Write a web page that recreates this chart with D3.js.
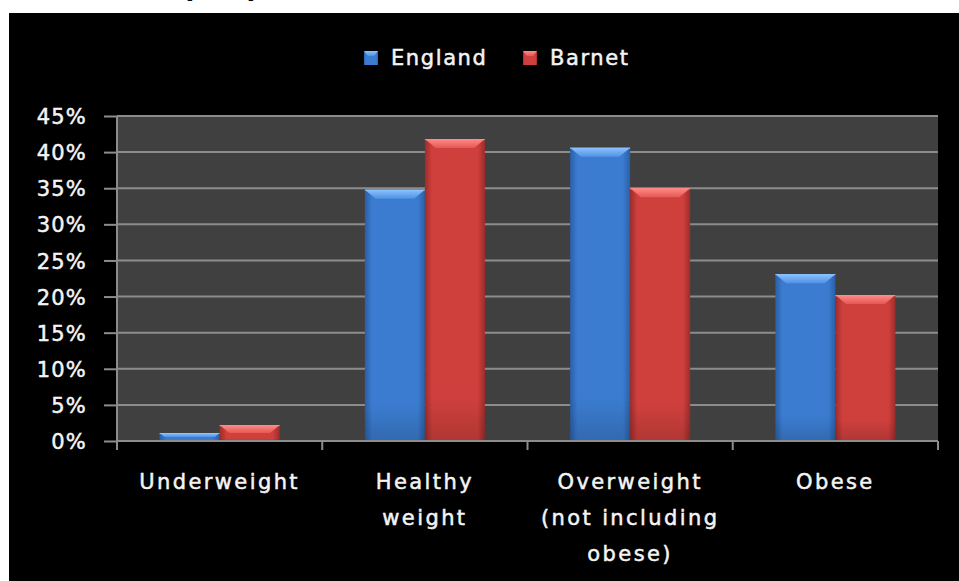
<!DOCTYPE html>
<html>
<head>
<meta charset="utf-8">
<script src="https://cdn.jsdelivr.net/npm/d3@7"></script>
<style>
  html, body { margin: 0; padding: 0; background: #ffffff; }
  svg { display: block; }
  text { font-family: "DejaVu Sans", Verdana, sans-serif; }
</style>
</head>
<body>
<svg id="chart" width="959" height="581"></svg>
<script>
// ---- data ----
const categories = [["Underweight"], ["Healthy", "weight"], ["Overweight", "(not including", "obese)"], ["Obese"]];
const seriesNames = ["England", "Barnet"];
const englandValues = [0.011, 0.348, 0.406, 0.231];
const barnetValues  = [0.022, 0.418, 0.350, 0.202];
const yTicks = [0, 0.05, 0.10, 0.15, 0.20, 0.25, 0.30, 0.35, 0.40, 0.45];

const seriesValues = [englandValues, barnetValues];
const catKeys = categories.map(c => c.join(" "));

const svg = d3.select("#chart");
const W = 959, H = 581;
const plot = { left: 117, right: 938, top: 116, bottom: 441 };
const textColor = "#f4f4f4";

// background
svg.append("rect").attr("x", 0).attr("y", 0).attr("width", W).attr("height", H).attr("fill", "#ffffff");
// partially visible title (cut off above)
svg.append("text").attr("x", 181).attr("y", -3).attr("font-size", 30).attr("font-weight", "bold").attr("fill", "#000").text("(");
svg.append("text").attr("x", 246).attr("y", -3).attr("font-size", 30).attr("font-weight", "bold").attr("fill", "#000").text(")");

svg.append("rect").attr("x", 9).attr("y", 13).attr("width", W - 9).attr("height", H - 13).attr("fill", "#000000");

// plot area
svg.append("rect").attr("x", plot.left).attr("y", plot.top)
  .attr("width", plot.right - plot.left).attr("height", plot.bottom - plot.top)
  .attr("fill", "#404040");

const x = d3.scaleBand().domain(catKeys).range([plot.left, plot.right]).paddingInner(0).paddingOuter(0);
const xs = d3.scaleBand().domain(seriesNames).range([0, x.bandwidth()]).paddingInner(0).paddingOuter(0.71);
const y = d3.scaleLinear().domain([0, 0.45]).range([plot.bottom, plot.top]);

// gridlines
svg.append("g").selectAll("line").data(yTicks.filter(t => t > 0)).join("line")
  .attr("x1", plot.left).attr("x2", plot.right)
  .attr("y1", d => y(d)).attr("y2", d => y(d))
  .attr("stroke", "#8c8c8c").attr("stroke-width", 2);

// gradients
const defs = svg.append("defs");
const palette = {
  England: { edge: "#2a5fa6", body: "#3b7cd0", top1: "#8cc2ff", top2: "#4f92e4", bottom: "#2f69b6" },
  Barnet:  { edge: "#9e2c2a", body: "#cf403d", top1: "#ff8a86", top2: "#e45854", bottom: "#b23532" }
};
seriesNames.forEach(s => {
  const p = palette[s];
  const g = defs.append("linearGradient").attr("id", "h-" + s).attr("x1", 0).attr("x2", 1).attr("y1", 0).attr("y2", 0);
  g.append("stop").attr("offset", 0).attr("stop-color", p.edge);
  g.append("stop").attr("offset", 0.12).attr("stop-color", p.body);
  g.append("stop").attr("offset", 0.88).attr("stop-color", p.body);
  g.append("stop").attr("offset", 1).attr("stop-color", p.edge);
  const v = defs.append("linearGradient").attr("id", "v-" + s).attr("x1", 0).attr("x2", 0).attr("y1", 0).attr("y2", 1);
  v.append("stop").attr("offset", 0).attr("stop-color", "#000").attr("stop-opacity", 0);
  v.append("stop").attr("offset", 0.85).attr("stop-color", "#000").attr("stop-opacity", 0);
  v.append("stop").attr("offset", 1).attr("stop-color", "#000").attr("stop-opacity", 0.15);
  const t = defs.append("linearGradient").attr("id", "t-" + s).attr("x1", 0).attr("x2", 0).attr("y1", 0).attr("y2", 1);
  t.append("stop").attr("offset", 0).attr("stop-color", p.top1);
  t.append("stop").attr("offset", 1).attr("stop-color", p.top2);
});

// bars
const barData = [];
catKeys.forEach((c, i) => seriesNames.forEach((s, j) => barData.push({ c, s, v: seriesValues[j][i] })));
const bars = svg.append("g").selectAll("g").data(barData).join("g");
bars.each(function(d) {
  const g = d3.select(this);
  const x0 = x(d.c) + xs(d.s), w = xs.bandwidth();
  const y0 = y(d.v), h = plot.bottom - y0;
  g.append("rect").attr("x", x0).attr("y", y0).attr("width", w).attr("height", h).attr("fill", `url(#h-${d.s})`);
  g.append("rect").attr("x", x0).attr("y", y0).attr("width", w).attr("height", h).attr("fill", `url(#v-${d.s})`);
  const bh = Math.min(9, h * 0.5), bi = Math.min(11, bh * 1.2);
  g.append("path")
    .attr("d", `M${x0},${y0} L${x0 + w},${y0} L${x0 + w - bi},${y0 + bh} L${x0 + bi},${y0 + bh} Z`)
    .attr("fill", `url(#t-${d.s})`);
  g.append("line").attr("x1", x0).attr("x2", x0 + w).attr("y1", y0 + 0.5).attr("y2", y0 + 0.5)
    .attr("stroke", palette[d.s].top1).attr("stroke-width", 1);
});

// y axis
const yAxis = d3.axisLeft(y).tickValues(yTicks).tickFormat(d3.format(".0%")).tickSize(13).tickPadding(17);
const ya = svg.append("g").attr("transform", `translate(${plot.left},0)`).call(yAxis);
ya.select(".domain").attr("stroke", "#8c8c8c").attr("stroke-width", 2).attr("d", `M0,${plot.top}V${plot.bottom + 8}`);
ya.selectAll(".tick line").attr("stroke", "#8c8c8c").attr("stroke-width", 2);
ya.selectAll(".tick text").attr("fill", textColor).attr("font-size", 21)
  .attr("stroke", textColor).attr("stroke-width", 0.5)
  .attr("font-family", "DejaVu Sans, sans-serif").attr("letter-spacing", "1.2px").attr("dy", "0.36em");

// x axis
const xAxis = d3.axisBottom(x).tickSize(0).tickFormat("");
const xa = svg.append("g").attr("transform", `translate(0,${plot.bottom})`).call(xAxis);
xa.select(".domain").attr("stroke", "#8c8c8c").attr("stroke-width", 2).attr("d", `M${plot.left},0H${plot.right}`);
const boundaries = catKeys.map(c => x(c)).concat([plot.right]);
xa.selectAll(".bound").data(boundaries).join("line").attr("class", "bound")
  .attr("x1", d => d).attr("x2", d => d).attr("y1", 0).attr("y2", 9)
  .attr("stroke", "#8c8c8c").attr("stroke-width", 2);

// category labels
const lab = svg.append("g").selectAll("text").data(categories).join("text")
  .attr("x", (d, i) => x(catKeys[i]) + x.bandwidth() / 2)
  .attr("y", 489)
  .attr("text-anchor", "middle").attr("fill", textColor)
  .attr("stroke", textColor).attr("stroke-width", 0.5)
  .attr("font-size", 21).attr("letter-spacing", "2.4px");
lab.each(function(d) {
  const t = d3.select(this);
  d.forEach((line, k) => t.append("tspan").attr("x", t.attr("x")).attr("dy", k === 0 ? 0 : 36).text(line));
});

// legend
const legend = svg.append("g");
const legendItems = [{ s: "England", x: 364 }, { s: "Barnet", x: 523 }];
legendItems.forEach(it => {
  legend.append("rect").attr("x", it.x).attr("y", 51).attr("width", 14).attr("height", 14).attr("fill", `url(#h-${it.s})`);
  legend.append("path").attr("d", `M${it.x},51 h14 l-4,5 h-6 Z`).attr("fill", `url(#t-${it.s})`);
  legend.append("text").attr("x", it.x + 27).attr("y", 65).attr("fill", textColor)
    .attr("stroke", textColor).attr("stroke-width", 0.5)
    .attr("font-size", 21).attr("letter-spacing", "1.6px").text(it.s);
});
</script>
</body>
</html>
